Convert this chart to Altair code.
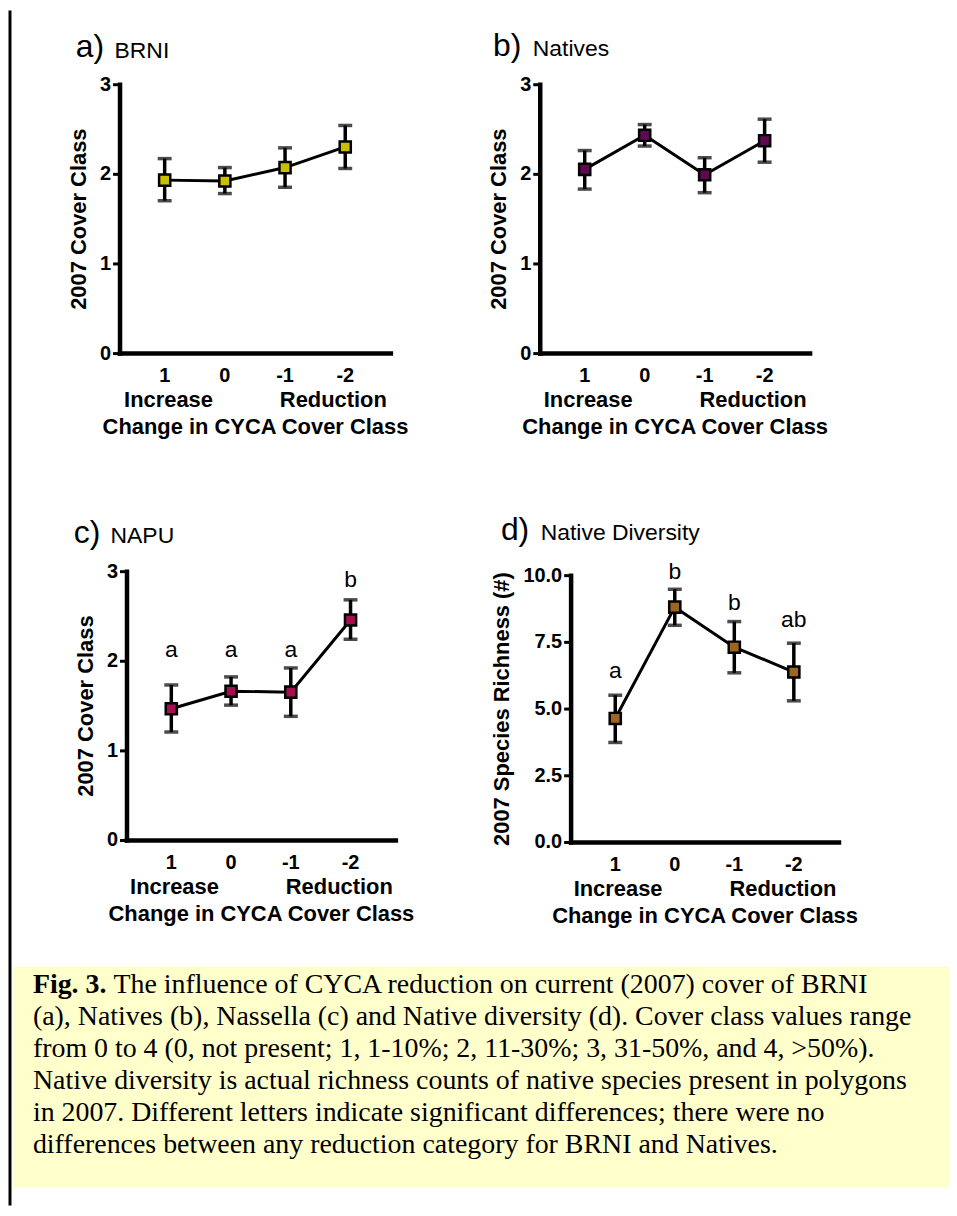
import altair as alt
import pandas as pd

W, H = 945, 1200
SANS = "Liberation Sans"
SERIF = "Liberation Serif"
NB = "\u00a0"

# ---------------- data ----------------
x_cats = ["1", "0", "-1", "-2"]

brni_mean = [1.93, 1.92, 2.07, 2.30]
brni_lo = [1.70, 1.78, 1.85, 2.06]
brni_hi = [2.17, 2.07, 2.29, 2.54]

nat_mean = [2.05, 2.43, 1.99, 2.37]
nat_lo = [1.83, 2.31, 1.79, 2.13]
nat_hi = [2.26, 2.55, 2.18, 2.61]

napu_mean = [1.465, 1.66, 1.65, 2.455]
napu_lo = [1.205, 1.505, 1.38, 2.24]
napu_hi = [1.73, 1.82, 1.92, 2.68]
napu_letters = ["a", "a", "a", "b"]
napu_letter_y = [2.04, 2.04, 2.04, 2.82]

div_mean = [4.63, 8.80, 7.30, 6.37]
div_lo = [3.73, 8.12, 6.34, 5.29]
div_hi = [5.50, 9.47, 8.26, 7.45]
div_letters = ["a", "b", "b", "ab"]
div_letter_y = [6.15, 9.85, 8.68, 8.06]

cover_ticks = [0, 1, 2, 3]
rich_ticks = [0, 2.5, 5, 7.5, 10]

caption_bold = "Fig. 3."
caption_first = "The influence of CYCA reduction on current (2007) cover of BRNI"
caption_lines = [
    "(a), Natives (b), Nassella (c) and Native diversity (d). Cover class values range",
    "from 0 to 4 (0, not present; 1, 1-10%; 2, 11-30%; 3, 31-50%, and 4, >50%).",
    "Native diversity is actual richness counts of native species present in polygons",
    "in 2007. Different letters indicate significant differences; there were no",
    "differences between any reduction category for BRNI and Natives.",
]


def panel(mean, lo, hi, color, x_rng, y_rng, y_dom, y_vals, y_fmt, y_title,
          letters=None, letter_y=None):
    df = pd.DataFrame({"x": x_cats, "m": mean, "lo": lo, "hi": hi})
    xs = alt.Scale(domain=x_cats, range=x_rng, padding=0.5)
    ys = alt.Scale(domain=y_dom, range=y_rng, nice=False, zero=False)
    x_axis = alt.Axis(
        orient="bottom", offset=y_rng[0] - H, labelAngle=0, ticks=False, tickSize=0,
        domainColor="black", domainWidth=4.5, domainCap="square", grid=False,
        labelFont=SANS, labelFontSize=20, labelFontWeight="bold", labelColor="black",
        labelPadding=13,
        title=["Increase" + NB * 11 + "Reduction", "Change in CYCA Cover Class"],
        titleFont=SANS, titleFontSize=22, titleFontWeight="bold", titleColor="black",
        titleLineHeight=27, titlePadding=4,
    )
    y_axis = alt.Axis(
        orient="left", offset=-x_rng[0], values=y_vals, format=y_fmt,
        domainColor="black", domainWidth=4.5, domainCap="square",
        tickColor="black", tickWidth=3, tickSize=7, grid=False,
        labelFont=SANS, labelFontSize=20, labelFontWeight="bold", labelColor="black",
        labelPadding=2,
        title=y_title, titleFont=SANS, titleFontSize=22, titleFontWeight="bold",
        titleColor="black", titlePadding=9,
    )

    def X():
        return alt.X("x:O", sort=x_cats, scale=xs, axis=x_axis)

    def Y(f):
        return alt.Y(f"{f}:Q", scale=ys, axis=y_axis)

    base = alt.Chart(df)
    line = base.mark_line(color="black", strokeWidth=3).encode(x=X(), y=Y("m"))
    bars = base.mark_rule(color="black", strokeWidth=3.5).encode(
        x=X(), y=Y("lo"), y2="hi:Q")
    cap_lo = base.mark_tick(color="black", size=14, thickness=3.5,
                            orient="horizontal").encode(x=X(), y=Y("lo"))
    cap_hi = base.mark_tick(color="black", size=14, thickness=3.5,
                            orient="horizontal").encode(x=X(), y=Y("hi"))
    pts = base.mark_point(shape="square", filled=True, size=125, fill=color,
                          stroke="black", strokeWidth=2.5, opacity=1,
                          fillOpacity=1).encode(x=X(), y=Y("m"))
    layers = [line, bars, cap_lo, cap_hi, pts]
    if letters is not None:
        ldf = pd.DataFrame({"x": x_cats, "ly": letter_y, "t": letters})
        lt = alt.Chart(ldf).mark_text(font=SANS, fontSize=23, color="black",
                                      baseline="alphabetic").encode(
            x=X(), y=Y("ly"), text="t:N")
        layers.append(lt)
    return alt.layer(*layers)


def label(txt, x, y, size, weight="normal", font=SANS):
    return alt.Chart(pd.DataFrame({"t": [txt]})).mark_text(
        font=font, fontSize=size, fontWeight=weight, color="black",
        align="left", baseline="alphabetic").encode(
        text="t:N", x=alt.value(x), y=alt.value(y))


pA = panel(brni_mean, brni_lo, brni_hi, "#C8C000", [112, 384], [344, 74], [0, 3],
           cover_ticks, "d", "2007 Cover Class")
pB = panel(nat_mean, nat_lo, nat_hi, "#5E0A50", [534, 805], [344, 74], [0, 3],
           cover_ticks, "d", "2007 Cover Class")
pC = panel(napu_mean, napu_lo, napu_hi, "#A3104D", [119, 389], [833, 563], [0, 3],
           cover_ticks, "d", "2007 Cover Class", napu_letters, napu_letter_y)
pD = panel(div_mean, div_lo, div_hi, "#9C6520", [565, 834], [835, 567], [0, 10],
           rich_ticks, ".1f", "2007 Species Richness (#)", div_letters, div_letter_y)

titles = [
    label("a)", 68, 47, 32), label("BRNI", 107, 48, 23),
    label("b)", 487, 46, 32), label("Natives", 527, 46, 23),
    label("c)", 66, 535, 32), label("NAPU", 103, 535, 23),
    label("d)", 495, 532, 32), label("Native Diversity", 535, 532, 23),
]

bg = alt.Chart(pd.DataFrame({"a": [0]})).mark_rect(color="#FFFFCC").encode(
    x=alt.value(5), x2=alt.value(945), y=alt.value(960), y2=alt.value(1182))
border = alt.Chart(pd.DataFrame({"a": [0]})).mark_rule(
    color="black", strokeWidth=3).encode(x=alt.value(2), y=alt.value(0), y2=alt.value(H))

cap_scale = alt.Scale(domain=[0, 5], range=[987, 1147])
cap0_bold = alt.Chart(pd.DataFrame({"i": [0], "t": [caption_bold]})).mark_text(
    font=SERIF, fontSize=28, fontWeight="bold", color="black", align="left",
    baseline="alphabetic").encode(
    text="t:N", x=alt.value(25), y=alt.Y("i:Q", scale=cap_scale, axis=None))
cap0_rest = alt.Chart(pd.DataFrame({"i": [0], "t": [caption_first]})).mark_text(
    font=SERIF, fontSize=28, color="black", align="left",
    baseline="alphabetic").encode(
    text="t:N", x=alt.value(106), y=alt.Y("i:Q", scale=cap_scale, axis=None))
cap_rest = alt.Chart(pd.DataFrame({"i": list(range(1, 6)), "t": caption_lines})).mark_text(
    font=SERIF, fontSize=28, color="black", align="left",
    baseline="alphabetic").encode(
    text="t:N", x=alt.value(25), y=alt.Y("i:Q", scale=cap_scale, axis=None))

chart = alt.layer(
    bg, border, cap0_bold, cap0_rest, cap_rest, *titles, pA, pB, pC, pD
).resolve_scale(x="independent", y="independent").properties(
    width=W, height=H, autosize=alt.AutoSizeParams(type="none"), padding=0
).configure_view(stroke=None)

chart.save("out.html", embed_options={"renderer": "svg", "actions": False})
